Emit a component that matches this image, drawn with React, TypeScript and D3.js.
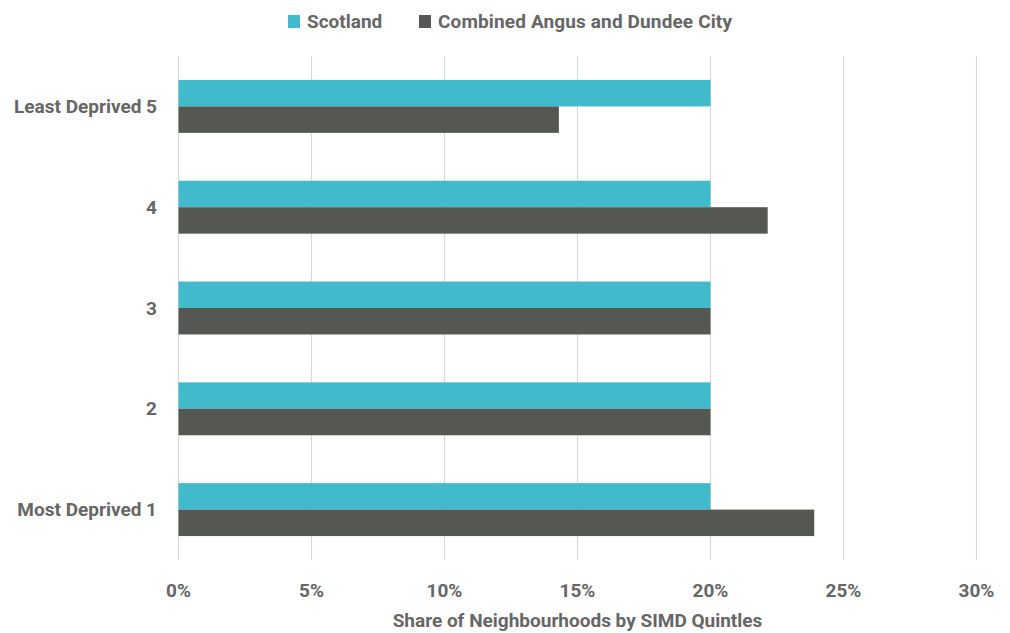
import React from "react";
import * as d3 from "d3";

const categories = ["Least Deprived 5", "4", "3", "2", "Most Deprived 1"];
const seriesNames = ["Scotland", "Combined Angus and Dundee City"];
const scotland = [20, 20, 20, 20, 20];
const combined = [14.3, 22.15, 20, 20, 23.9];
const xTicks = [0, 5, 10, 15, 20, 25, 30];
const colors = ["#41BBCB", "#555852"];

export default function App() {
  const W = 1010, H = 633;
  const left = 178.5, right = 976.5, top = 56, bottom = 560;
  const x = d3.scaleLinear().domain([0, 30]).range([left, right]);
  const y = d3.scaleBand().domain(categories).range([top, bottom]).paddingInner(0.475).paddingOuter(0.2375);
  const sub = d3.scaleBand().domain(seriesNames).range([0, y.bandwidth()]);
  const values = [scotland, combined];
  const font = "Roboto, 'Noto Sans', sans-serif";
  const fs = 19;
  return (
    <svg width={W} height={H} style={{ position: "absolute", left: 0, top: 0, background: "#fff" }} fontFamily={font}>
      {xTicks.map((t) => (
        <line key={t} x1={x(t)} x2={x(t)} y1={top} y2={bottom} stroke="#d9d9d9" strokeWidth={1.2} />
      ))}
      {categories.map((c, i) =>
        seriesNames.map((s, j) => (
          <rect key={c + s} x={x(0)} y={(y(c) as number) + (sub(s) as number)} width={x(values[j][i]) - x(0)} height={sub.bandwidth()} fill={colors[j]} />
        ))
      )}
      {categories.map((c) => (
        <text key={c} x={157} y={(y(c) as number) + y.bandwidth() / 2} dy="0.35em" textAnchor="end" fontSize={fs} fontWeight="bold" fill="#666">{c}</text>
      ))}
      {xTicks.map((t) => (
        <text key={t} x={x(t)} y={597} textAnchor="middle" fontSize={fs} fontWeight="bold" fill="#666">{t + "%"}</text>
      ))}
      <text x={(left + right) / 2} y={627} textAnchor="middle" fontSize={fs} fontWeight="bold" fill="#666">Share of Neighbourhoods by SIMD Quintles</text>
      <rect x={288} y={15} width={12} height={13} fill={colors[0]} />
      <text x={307} y={28} fontSize={fs} fontWeight="bold" fill="#666">Scotland</text>
      <rect x={419} y={15} width={12} height={13} fill={colors[1]} />
      <text x={438} y={28} fontSize={fs} fontWeight="bold" fill="#666" textLength={294}>Combined Angus and Dundee City</text>
    </svg>
  );
}
